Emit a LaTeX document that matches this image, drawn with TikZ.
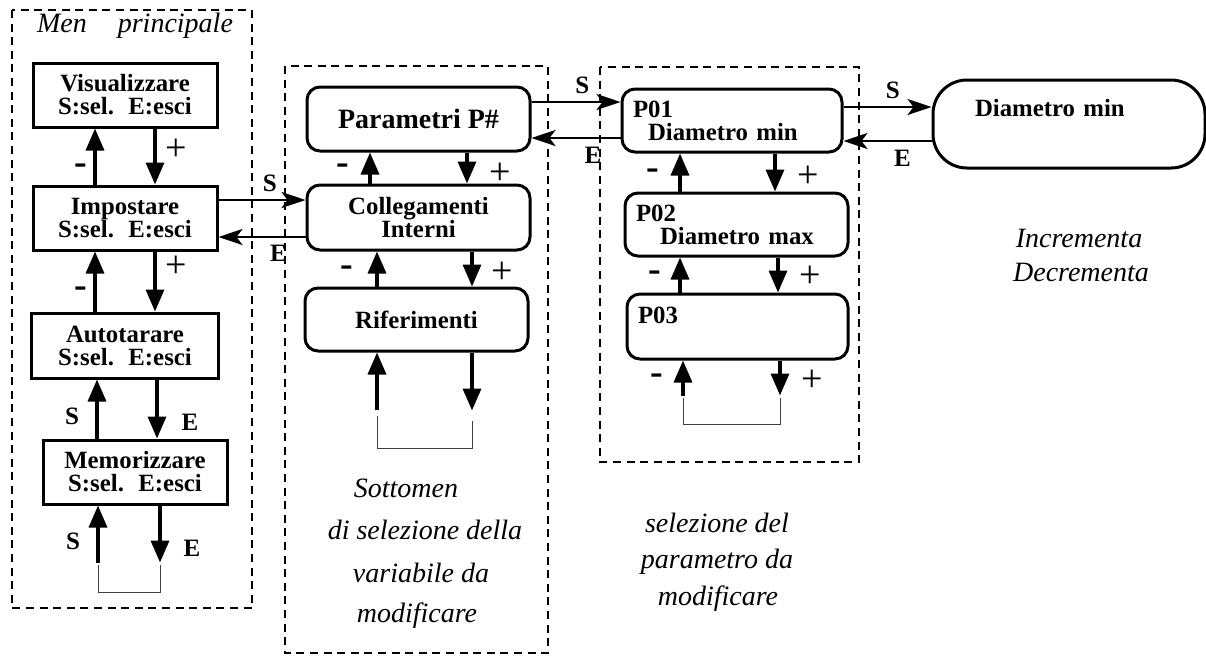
\documentclass[tikz,border=0pt]{standalone}
\usepackage{fontspec}
\setmainfont{Liberation Serif}
\usetikzlibrary{arrows.meta, positioning}

\newcommand{\blkfont}{\bfseries\fontsize{12.4}{11.5}\selectfont}
\newcommand{\labfont}{\itshape\fontsize{14}{17}\selectfont}

\begin{document}
\begin{tikzpicture}[
    x=0.5pt, y=-0.5pt,
    menubox/.style={rectangle, draw, line width=1.5pt, minimum width=92pt, minimum height=32pt, align=center, inner sep=1pt, font=\blkfont},
    subbox/.style={menubox, rounded corners=6.5pt, minimum width=111.5pt},
    parbox/.style={rectangle, draw, line width=1.5pt, rounded corners=6.5pt, text width=99pt, inner xsep=5.5pt, inner ysep=1pt, minimum height=31.5pt, align=left, font=\blkfont},
    groupframe/.style={draw, line width=0.8pt, dash pattern=on 4pt off 2.8pt},
    varrow/.style={line width=1.7pt, -{Triangle[length=11pt, width=9pt]}},
    harrow/.style={line width=1.4pt, -{Stealth[length=12pt, width=8pt, inset=3pt]}},
    loopline/.style={line width=0.5pt, black!75},
    keylab/.style={font=\bfseries\fontsize{12.5}{12.5}\selectfont, inner sep=0pt},
    pluslab/.style={font=\fontsize{19}{19}\selectfont, inner sep=0pt},
    minuslab/.style={font=\bfseries\fontsize{19}{19}\selectfont, inner sep=0pt},
    notetext/.style={font=\labfont, inner sep=0pt, anchor=base},
]
\useasboundingbox (0,0) rectangle (1206,655);

% Group frames
\draw[groupframe] (12,10) rectangle (252,608);
\draw[groupframe] (285,66) rectangle (548,653);
\draw[groupframe] (600,67) rectangle (859,462);

% Menu principale
\node[menubox] (vis) at (125,95) {Visualizzare\\S:sel.~ E:esci};
\node[menubox, below=28pt of vis] (imp) {Impostare\\S:sel.~ E:esci};
\node[menubox, below=30pt of imp, minimum width=93.5pt, minimum height=32.5pt] (autot) {Autotarare\\S:sel.~ E:esci};
\node[menubox, below=29.5pt of autot, xshift=5pt] (mem) {Memorizzare\\S:sel.~ E:esci};

% Sottomenu
\node[subbox, font=\bfseries\fontsize{14}{14}\selectfont] (par) at (418.5,119) {Parametri P\#};
\node[subbox, below=15.5pt of par, minimum height=32.5pt] (col) {Collegamenti\\Interni};
\node[subbox, below=17.5pt of col, xshift=-1pt, minimum height=31.5pt] (rif) {Riferimenti};

% Parametri
\node[parbox] (p01) at (732,120.5) {P01\\\hspace*{7.5pt}Diametro min};
\node[parbox, below=19pt of p01, xshift=2.25pt, text width=100.5pt] (p02) {P02\\\hspace*{12pt}Diametro max};
\node[parbox, below=17.5pt of p02, xshift=0.5pt, text width=99.5pt, minimum height=32.5pt] (p03) {P03\\\mbox{}};

% Valore
\node[parbox, rounded corners=17pt, text width=94pt, inner xsep=21pt, minimum height=44pt] (dmin) at (1069,124) {Diametro min\\[5pt]\mbox{}};

% Text notes
\node[notetext] (mainttl) at (135,32) {Men\hspace{15.5pt}principale};
\node[notetext] (sub1) at (406,497) {Sottomen};
\node[notetext] (sub2) at (425,539) {di selezione della};
\node[notetext] (sub3) at (421,582) {variabile da};
\node[notetext] (sub4) at (417,622) {modificare};
\node[notetext] (sel1) at (717,532) {selezione del};
\node[notetext] (sel2) at (717,568) {parametro da};
\node[notetext] (sel3) at (718,605) {modificare};
\node[notetext] (inc1) at (1079,247) {Incrementa};
\node[notetext] (inc2) at (1081,281) {Decrementa};

% Arrows: menu principale
\draw[varrow] ([xshift=15pt]vis.south) -- ([xshift=15pt]vis.south |- imp.north) node[pluslab, pos=0.375, xshift=10.5pt]{+};
\draw[varrow] ([xshift=-15pt]imp.north) -- ([xshift=-15pt]imp.north |- vis.south) node[minuslab, pos=0.27, xshift=-7pt]{-};
\draw[varrow] ([xshift=15pt]imp.south) -- ([xshift=15pt]imp.south |- autot.north) node[pluslab, pos=0.25, xshift=10.5pt]{+};
\draw[varrow] ([xshift=-15pt]autot.north) -- ([xshift=-15pt]autot.north |- imp.south) node[minuslab, pos=0.32, xshift=-7pt]{-};
\draw[varrow] ([xshift=16pt]autot.south) -- ([xshift=16pt]autot.south |- mem.north) node[keylab, pos=0.73, xshift=16.5pt]{E};
\draw[varrow] ([xshift=-19pt]mem.north) -- ([xshift=-19pt]mem.north |- autot.south) node[keylab, pos=0.37, xshift=-12.5pt]{S};

\coordinate (memS) at ([xshift=-18.5pt, yshift=-28.5pt]mem.south);
\coordinate (memE) at ([xshift=12.5pt, yshift=-28.5pt]mem.south);
\draw[varrow] (memS) -- (memS |- mem.south) node[keylab, pos=0.37, xshift=-12.5pt]{S};
\draw[varrow] (memE |- mem.south) -- (memE) node[keylab, pos=0.75, xshift=16pt]{E};
\draw[loopline] ([yshift=-1pt]memS) -- ++(0,28) -| ([yshift=-1pt]memE);

% Arrows: menu <-> sottomenu
\draw[harrow] ([yshift=9pt]imp.east) -- ([yshift=9pt]imp.east -| col.west) node[keylab, pos=0.59, yshift=8.5pt]{S};
\draw[harrow] ([yshift=-9.75pt]col.west) -- ([yshift=-9.75pt]col.west -| imp.east) node[keylab, pos=0.31, yshift=-8pt]{E};

% Arrows: sottomenu
\draw[varrow] ([xshift=24.25pt]par.south) -- ([xshift=24.25pt]par.south |- col.north) node[pluslab, pos=0.68, xshift=16.5pt]{+};
\draw[varrow] ([xshift=-24.25pt]col.north) -- ([xshift=-24.25pt]col.north |- par.south) node[minuslab, pos=0.45, xshift=-13.5pt]{-};
\draw[varrow] ([xshift=26.75pt]col.south) -- ([xshift=26.75pt]col.south |- rif.north) node[pluslab, pos=0.6, xshift=15pt]{+};
\draw[varrow] ([xshift=-19.75pt]rif.north) -- ([xshift=-19.75pt]rif.north |- col.south) node[minuslab, pos=0.43, xshift=-15pt]{-};

\coordinate (rifS) at ([xshift=-19.75pt, yshift=-28.5pt]rif.south);
\coordinate (rifE) at ([xshift=27.75pt, yshift=-29pt]rif.south);
\draw[varrow] (rifS) -- (rifS |- rif.south);
\draw[varrow] (rifE |- rif.south) -- (rifE);
\draw[loopline] ([yshift=-3pt]rifS) -- ++(0,33) -| ([yshift=-5pt]rifE);

% Arrows: sottomenu <-> parametri
\draw[harrow] ([yshift=8.5pt]par.east) -- ([yshift=8.5pt]par.east -| p01.west) node[keylab, pos=0.57, yshift=8.5pt]{S};
\draw[harrow] ([yshift=-8.75pt]p01.west) -- ([yshift=-8.75pt]p01.west -| par.east) node[keylab, pos=0.31, yshift=-8.5pt]{E};

% Arrows: parametri
\draw[varrow] ([xshift=21.5pt]p01.south) -- ([xshift=21.5pt]p01.south |- p02.north) node[pluslab, pos=0.6, xshift=16.5pt]{+};
\draw[varrow] ([xshift=-28.25pt]p02.north) -- ([xshift=-28.25pt]p02.north |- p01.south) node[minuslab, pos=0.45, xshift=-13.5pt]{-};
\draw[varrow] ([xshift=20.75pt]p02.south) -- ([xshift=20.75pt]p02.south |- p03.north) node[pluslab, pos=0.54, xshift=16pt]{+};
\draw[varrow] ([xshift=-28.75pt]p03.north) -- ([xshift=-28.75pt]p03.north |- p02.south) node[minuslab, pos=0.46, xshift=-12.5pt]{-};

\coordinate (p03S) at ([xshift=-27.25pt, yshift=-17.5pt]p03.south);
\coordinate (p03E) at ([xshift=21.25pt, yshift=-17.5pt]p03.south);
\draw[varrow] (p03S) -- (p03S |- p03.south) node[minuslab, pos=0.46, xshift=-13pt]{-};
\draw[varrow] (p03E |- p03.south) -- (p03E) node[pluslab, pos=0.57, xshift=16pt]{+};
\draw[loopline] ([yshift=-1pt]p03S) -- ++(0,27) -| ([yshift=-1pt]p03E);

% Arrows: parametri <-> valore
\draw[harrow] ([yshift=6.75pt]p01.east) -- ([yshift=6.75pt]p01.east -| dmin.west) node[keylab, pos=0.56, yshift=8.5pt]{S};
\draw[harrow] ([yshift=-8.5pt]dmin.west) -- ([yshift=-8.5pt]dmin.west -| p01.east) node[keylab, pos=0.33, yshift=-8.5pt]{E};

\end{tikzpicture}
\end{document}
